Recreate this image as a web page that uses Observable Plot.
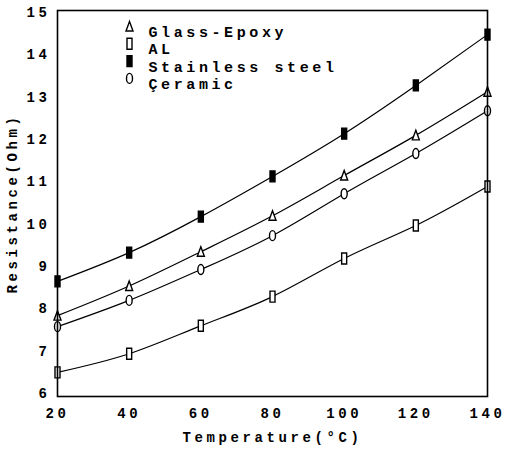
<!DOCTYPE html>
<html>
<head>
<meta charset="utf-8">
<script src="https://cdn.jsdelivr.net/npm/d3@7"></script>
<script src="https://cdn.jsdelivr.net/npm/@observablehq/plot@0.6"></script>
<style>
  html, body { margin: 0; padding: 0; background: #fff; }
  #chart { width: 507px; height: 453px; }
</style>
</head>
<body>
<div id="chart"></div>
<script>
const temperatures = [20, 40, 60, 80, 100, 120, 140];
const seriesNames = ["Glass-Epoxy", "AL", "Stainless steel", "Çeramic"];
const glassEpoxy = [7.84, 8.54, 9.35, 10.2, 11.15, 12.1, 13.13];
const al = [6.5, 6.94, 7.6, 8.29, 9.19, 9.97, 10.89];
const stainless = [8.65, 9.33, 10.18, 11.13, 12.14, 13.28, 14.48];
const ceramic = [7.58, 8.2, 8.93, 9.73, 10.72, 11.67, 12.68];
const yTicks = [6, 7, 8, 9, 10, 11, 12, 13, 14, 15];
const xTicks = [20, 40, 60, 80, 100, 120, 140];

const seriesValues = [glassEpoxy, al, stainless, ceramic];

// custom marker shapes
const triangle = {draw(c) { c.moveTo(0, -5); c.lineTo(3.5, 4.5); c.lineTo(-3.5, 4.5); c.closePath(); }};
const tallRect = {draw(c) { c.rect(-2.5, -5.5, 5, 11); }};
const ellipse = {draw(c) {
  const rx = 3, ry = 5, k = 0.5523;
  c.moveTo(0, -ry);
  c.bezierCurveTo(k * rx, -ry, rx, -k * ry, rx, 0);
  c.bezierCurveTo(rx, k * ry, k * rx, ry, 0, ry);
  c.bezierCurveTo(-k * rx, ry, -rx, k * ry, -rx, 0);
  c.bezierCurveTo(-rx, -k * ry, -k * rx, -ry, 0, -ry);
  c.closePath();
}};
const symbols = [triangle, tallRect, tallRect, ellipse];
const fills = ["white", "white", "black", "white"];

const data = [];
seriesNames.forEach((name, i) => {
  temperatures.forEach((t, j) => data.push({series: name, idx: i, t, r: seriesValues[i][j]}));
});

const marks = [];
seriesNames.forEach((name, i) => {
  const d = data.filter(e => e.idx === i);
  marks.push(Plot.line(d, {x: "t", y: "r", curve: "natural", stroke: "black", strokeWidth: 1.2}));
  marks.push(Plot.dot(d, {x: "t", y: "r", symbol: symbols[i], fill: fills[i], stroke: "black", strokeWidth: 1.4}));
  // legend
  marks.push(Plot.dot({length: 1}, {frameAnchor: "top-left", dx: 72, dy: 16 + i * 17.3, symbol: symbols[i], fill: fills[i], stroke: "black", strokeWidth: 1.4}));
  marks.push(Plot.text([name], {text: d => d, frameAnchor: "top-left", dx: 91, dy: 16 + i * 17.3, textAnchor: "start", fill: "black", fontSize: 15, fontWeight: "bold", style: "letter-spacing:3.3px"}));
});
marks.push(Plot.frame({stroke: "black", strokeWidth: 1.6}));

const chart = Plot.plot({
  width: 507,
  height: 453,
  marginLeft: 57,
  marginRight: 20,
  marginTop: 10,
  marginBottom: 57,
  style: {fontFamily: "'Liberation Mono', 'DejaVu Sans Mono', monospace", fontWeight: "bold", fontSize: "14px", letterSpacing: "3.6px", color: "black", background: "white"},
  x: {domain: [20, 140], ticks: xTicks, tickSize: 0, tickPadding: 12, label: "Temperature(°C)", labelAnchor: "center", labelOffset: 45, labelArrow: false},
  y: {domain: [5.93, 15.05], ticks: yTicks, tickSize: 0, tickPadding: 7, label: "Resistance(Ohm)", labelAnchor: "center", labelOffset: 50, labelArrow: false},
  marks
});
document.getElementById("chart").appendChild(chart);
</script>
</body>
</html>
